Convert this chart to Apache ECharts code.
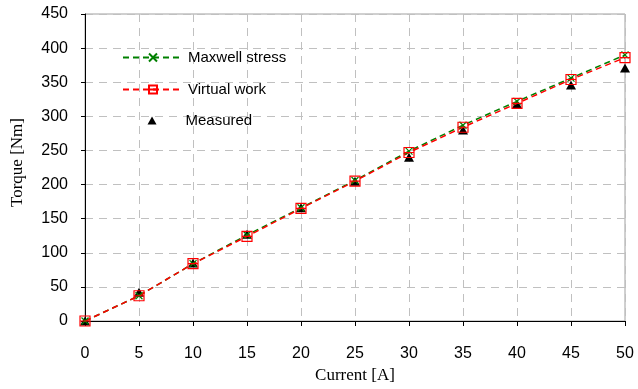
<!DOCTYPE html>
<html>
<head>
<meta charset="utf-8">
<script src="https://cdn.jsdelivr.net/npm/echarts@6/dist/echarts.min.js"></script>
<style>html,body{margin:0;padding:0;background:#fff;}#c{width:638px;height:389px;}</style>
</head>
<body>
<div id="c"></div>
<script>
var current = [0, 5, 10, 15, 20, 25, 30, 35, 40, 45, 50];
var maxwell = [0, 37, 84, 126, 166, 206, 249, 287, 322, 356, 390];
var virtualWork = [0, 37, 84, 124, 165, 205, 247, 284, 319, 354, 386];
var measured = [0, 42, 85, 127, 166, 205, 240, 280, 318, 346, 371];
var seriesNames = ['Maxwell stress', 'Virtual work', 'Measured'];

function pairs(ys) { return current.map(function (x, i) { return [x, ys[i]]; }); }

var crossPath = 'path://M0,0 L10,10 M10,0 L0,10';
var boxPath = 'path://M0,0 L10,0 L10,10 L0,10 Z M0,5 L10,5';
var legendText = { fontFamily: 'Liberation Sans', fontSize: 15, color: '#000' };

var chart = echarts.init(document.getElementById('c'));
chart.setOption({
  animation: false,
  backgroundColor: '#fff',
  grid: { left: 85, right: 13, top: 14, bottom: 65, show: true, borderColor: '#a0a0a0', borderWidth: 1, backgroundColor: 'transparent' },
  legend: [
    { data: [seriesNames[0]], left: 122, top: 50, padding: 0, itemWidth: 60, itemHeight: 10, textStyle: legendText },
    { data: [seriesNames[1]], left: 122, top: 82, padding: 0, itemWidth: 60, itemHeight: 10, textStyle: legendText },
    { data: [seriesNames[2]], left: 147.5, top: 113, padding: 0, itemWidth: 9, itemHeight: 8,
      textStyle: Object.assign({ padding: [0, 0, 0, 24] }, legendText) }
  ],
  xAxis: {
    type: 'value', min: 0, max: 50, interval: 5,
    name: 'Current [A]', nameLocation: 'middle', nameGap: 46,
    nameTextStyle: { fontFamily: 'Liberation Serif', fontSize: 17, color: '#000' },
    axisLine: { lineStyle: { color: '#000', width: 1 } },
    axisTick: { show: true, length: 5, lineStyle: { color: '#000' } },
    axisLabel: { margin: 25, fontFamily: 'Liberation Sans', fontSize: 16, color: '#000' },
    splitLine: { show: true, lineStyle: { color: '#c0c0c0', type: [8, 6], width: 1 } }
  },
  yAxis: {
    type: 'value', min: 0, max: 450, interval: 50,
    name: 'Torque [Nm]', nameLocation: 'middle', nameGap: 59,
    nameTextStyle: { fontFamily: 'Liberation Serif', fontSize: 17, color: '#000', padding: [0, 0, 0, 10] },
    axisLine: { show: true, lineStyle: { color: '#000', width: 1 } },
    axisTick: { show: true, length: 4, lineStyle: { color: '#000' } },
    axisLabel: { margin: 17, fontFamily: 'Liberation Sans', fontSize: 16, color: '#000' },
    splitLine: { show: true, lineStyle: { color: '#c0c0c0', type: [8, 6], width: 1 } }
  },
  series: [
    {
      name: seriesNames[0], type: 'line', data: pairs(maxwell),
      symbol: crossPath, symbolSize: 7,
      lineStyle: { color: '#008000', width: 1.5, type: [6, 4] },
      itemStyle: { color: 'rgba(0,0,0,0)', borderColor: '#008000', borderWidth: 1.2 }
    },
    {
      name: seriesNames[1], type: 'line', data: pairs(virtualWork),
      symbol: boxPath, symbolSize: 10,
      lineStyle: { color: '#ff0000', width: 1.5, type: [6, 4] },
      itemStyle: { color: 'rgba(0,0,0,0)', borderColor: '#ff0000', borderWidth: 1.2 }
    },
    {
      name: seriesNames[2], type: 'scatter', data: pairs(measured),
      symbol: 'triangle', symbolSize: [10, 9],
      itemStyle: { color: '#000', opacity: 1 }
    }
  ]
});
</script>
</body>
</html>
